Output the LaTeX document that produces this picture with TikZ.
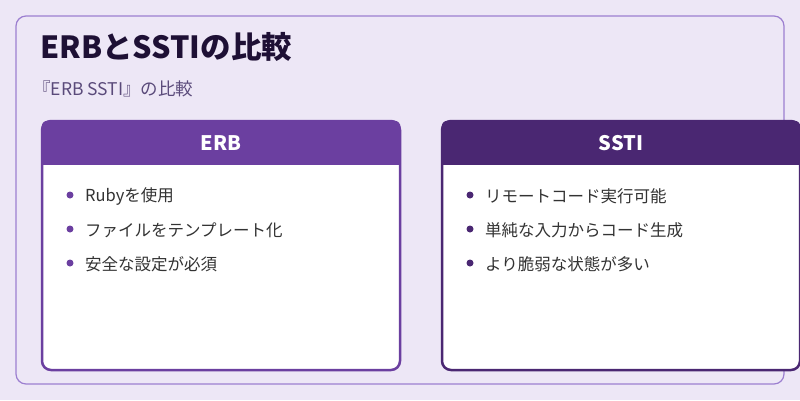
\documentclass[tikz,border=0pt]{standalone}
\usepackage{fontspec}
\setmainfont{Noto Sans CJK JP}
\usetikzlibrary{positioning}
\definecolor{bgpurple}{HTML}{EDE7F6}
\definecolor{framepurple}{HTML}{9C7FD0}
\definecolor{erbpurple}{HTML}{6B3FA0}
\definecolor{sstipurple}{HTML}{4A2772}
\definecolor{titleink}{HTML}{1E1035}
\definecolor{subink}{HTML}{5A4A7A}
\definecolor{textink}{HTML}{333333}
\tikzset{
  card/.style={draw=#1, line width=2.5pt, fill=white, rounded corners=9pt},
  cardhead/.style={fill=#1, rounded corners=9pt},
  headtext/.style={text=white, font=\fontsize{20}{23}\selectfont\bfseries},
  itemtext/.style={anchor=west, text=textink, font=\fontsize{16.5}{19}\selectfont, inner sep=0pt},
  bulletdot/.style={circle, fill=#1, inner sep=0pt, minimum size=7pt}
}
\begin{document}
\begin{tikzpicture}[x=1pt,y=-1pt]
  \useasboundingbox (0,0) rectangle (800,400);
  \fill[bgpurple] (0,0) rectangle (800,400);
  \draw[framepurple, line width=1.2pt, rounded corners=10pt] (16,16) rectangle (784,384);
  \node[anchor=west, text=titleink, font=\fontsize{30.5}{34}\selectfont\bfseries, inner sep=0pt] (title) at (40,47) {ERBとSSTIの比較};
  \node[anchor=west, text=subink, font=\fontsize{17.5}{20}\selectfont, inner sep=0pt] (subtitle) at (33,89) {『ERB SSTI』の比較};
  % ERB card
  \draw[card=erbpurple] (42,121) rectangle (400,370);
  \begin{scope}
    \clip (42,121) rectangle (400,164);
    \fill[cardhead=erbpurple] (40.75,119.75) rectangle (401.25,180);
  \end{scope}
  \node[headtext] (erbhead) at (221,143) {ERB};
  % SSTI card
  \draw[card=sstipurple] (442,121) rectangle (800,370);
  \begin{scope}
    \clip (442,121) rectangle (800,164);
    \fill[cardhead=sstipurple] (440.75,119.75) rectangle (801.25,180);
  \end{scope}
  \node[headtext] (sstihead) at (621,143) {SSTI};
  % items
  \foreach \y/\txt [count=\i] in {196/Rubyを使用, 230/ファイルをテンプレート化, 264/安全な設定が必須}
    \node[itemtext] (erbitem\i) at (85,\y) {\txt};
  \foreach \y [count=\i] in {196,230,264}
    \node[bulletdot=erbpurple] (erbdot\i) at (70,\y-1) {};
  \foreach \y/\txt [count=\i] in {196/リモートコード実行可能, 230/単純な入力からコード生成, 264/より脆弱な状態が多い}
    \node[itemtext] (sstiitem\i) at (485,\y) {\txt};
  \foreach \y [count=\i] in {196,230,264}
    \node[bulletdot=sstipurple] (sstidot\i) at (470,\y-1) {};
\end{tikzpicture}
\end{document}
